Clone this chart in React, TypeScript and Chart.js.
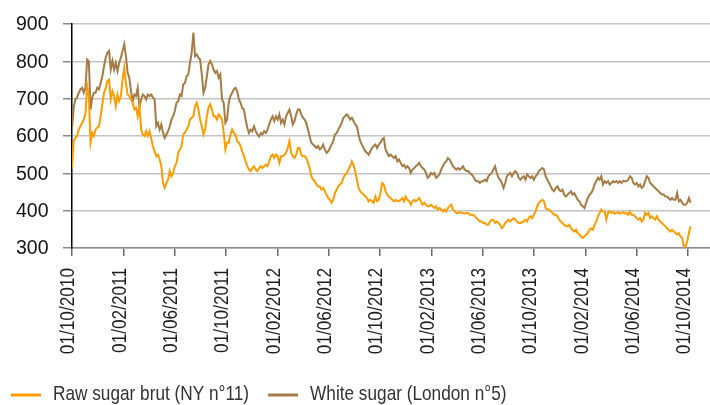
import React, { useEffect, useRef } from "react";
import { Chart, registerables } from "chart.js";

Chart.register(...registerables);

// ---- data -------------------------------------------------------------
const START_DATE = "01/10/2010";
const STEP_DAYS = 4; // one reading every 4 days
const X_MAX_DAYS = 1514;

const TICK_LABELS = [
  "01/10/2010", "01/02/2011", "01/06/2011", "01/10/2011", "01/02/2012",
  "01/06/2012", "01/10/2012", "01/02/2013", "01/06/2013", "01/10/2013",
  "01/02/2014", "01/06/2014", "01/10/2014",
];

const Y_MIN = 300;
const Y_MAX = 900;
const Y_STEP = 100;

const SERIES_NAMES = ["Raw sugar brut (NY n°11)", "White sugar (London n°5)"];
const SERIES_COLORS = ["#FF9C00", "#A57B46"];

const RAW_SUGAR = [
  512, 586, 595, 600, 617, 626, 635, 644, 660, 734,
  707, 582, 608, 600, 617, 622, 626, 653, 685, 716,
  729, 747, 751, 698, 720, 707, 680, 711, 694, 707,
  751, 783, 741, 711, 707, 698, 689, 671, 676, 653,
  680, 617, 604, 600, 613, 600, 613, 594, 572, 559,
  546, 550, 537, 519, 474, 461, 474, 483, 506, 492,
  501, 519, 528, 555, 564, 572, 604, 609, 617, 626,
  644, 649, 653, 680, 689, 671, 644, 626, 604, 617,
  653, 676, 685, 671, 653, 653, 644, 658, 653, 644,
  609, 564, 582,
  582, 604, 617, 608, 604, 586, 582, 573, 559, 546,
  532, 519, 510, 506, 514, 519, 510, 506, 514, 519,
  514, 519, 523, 519, 532, 546, 550, 541, 550, 546,
  528, 546, 546, 550, 555, 568, 586, 555, 546, 541,
  550, 568, 568, 550, 546, 546, 541, 528, 514, 492,
  483, 479, 470, 465, 465, 456, 461, 452, 443, 434,
  429, 421, 429, 447, 456, 465, 470, 474, 488, 497,
  501, 510, 519, 532, 523, 506, 483, 461, 452, 447,
  443, 438, 434, 425, 429, 425, 421, 438, 425, 429,
  447, 474,
  470, 452, 443, 438, 434, 429, 425, 429, 425, 425,
  429, 434, 425, 438, 429, 425, 416, 425, 429, 425,
  429, 434, 425, 416, 421, 416, 412, 412, 416, 412,
  407, 412, 403, 407, 403, 398, 403, 398, 407, 412,
  416, 403, 398, 394, 394, 396, 394, 394, 392, 394,
  394, 389, 389, 389, 385, 380, 376, 371, 371, 367,
  367, 362, 362, 371, 376, 376, 367, 371, 367, 362,
  353, 358, 367, 371, 376, 371, 376, 380, 376, 371,
  367, 367, 369, 371, 376, 371, 380, 385, 380, 389,
  398, 412,
  421, 425, 429, 425, 407, 403, 403, 398, 394, 389,
  389, 385, 376, 371, 367, 362, 358, 358, 362, 353,
  349, 344, 349, 340, 336, 331, 327, 331, 336, 340,
  349, 353, 349, 362, 371, 385, 394, 403, 398, 398,
  376, 394, 398, 394, 396, 392, 394, 396, 392, 394,
  396, 392, 394, 389, 398, 389, 389, 385, 380, 376,
  380, 371, 376, 394, 389, 394, 380, 385, 380, 376,
  385, 376, 371, 367, 362, 358, 353, 349, 344, 349,
  344, 340, 336, 340, 331, 327, 304, 304, 318, 340,
  358,
];

const WHITE_SUGAR = [
  620, 676, 698, 703, 716, 725, 729, 716, 729, 805,
  800, 671, 703, 716, 716, 729, 725, 742, 760, 787,
  810, 823, 828, 778, 801, 778, 796, 774, 796, 810,
  828, 846, 814, 769, 756, 720, 693, 711, 707, 729,
  676, 698, 711, 707, 698, 711, 707, 711, 703, 698,
  626, 635, 617, 631, 609, 595, 604, 613, 626, 644,
  653, 667, 689, 693, 711, 707, 738, 742, 760, 765,
  796, 823, 877, 814, 818, 810, 805, 765, 716, 729,
  760, 792, 801, 792, 778, 769, 774, 756, 765, 698,
  689, 635, 644,
  689, 707, 716, 725, 729, 720, 698, 689, 675, 671,
  644, 622, 608, 617, 613, 626, 613, 604, 599, 608,
  604, 613, 608, 617, 631, 644, 653, 640, 653, 644,
  658, 635, 644, 631, 653, 662, 671, 653, 631, 640,
  658, 671, 671, 658, 649, 644, 635, 617, 599, 582,
  577, 573, 568, 573, 564, 568, 577, 564, 555, 559,
  568, 577, 586, 604, 608, 617, 626, 635, 649, 653,
  658, 653, 644, 649, 640, 631, 626, 604, 586, 577,
  568, 559, 555, 550, 559, 568, 573, 577, 568, 577,
  582, 591,
  595, 564, 555, 546, 550, 546, 541, 546, 532, 537,
  528, 519, 523, 514, 519, 514, 501, 510, 514, 519,
  523, 528, 519, 514, 510, 501, 488, 492, 501, 497,
  501, 488, 492, 497, 510, 519, 528, 532, 541, 537,
  528, 519, 514, 510, 514, 510, 514, 519, 510, 506,
  506, 501, 497, 492, 483, 479, 479, 474, 479, 479,
  483, 479, 492, 497, 501, 510, 519, 501, 488, 483,
  474, 461, 474, 492, 497, 501, 492, 501, 506, 501,
  488, 483, 488, 492, 483, 497, 492, 488, 492, 483,
  492, 497,
  506, 510, 514, 510, 492, 483, 474, 465, 456, 452,
  461, 465, 456, 452, 456, 443, 438, 443, 447, 452,
  443, 447, 438, 429, 425, 416, 412, 407, 421, 434,
  443, 447, 456, 470, 479, 488, 483, 492, 470, 479,
  474, 479, 470, 474, 479, 476, 479, 474, 479, 474,
  480, 479, 479, 483, 492, 488, 474, 470, 474, 465,
  470, 461, 465, 479, 492, 488, 474, 470, 465, 461,
  456, 452, 447, 443, 443, 438, 438, 434, 429, 434,
  429, 429, 447, 425, 429, 421, 416, 416, 421, 434,
  421,
];

// ---- helpers ----------------------------------------------------------
function dayOffset(label: string): number {
  const [d, m, y] = label.split("/").map(Number);
  const [d0, m0, y0] = START_DATE.split("/").map(Number);
  return Math.round((Date.UTC(y, m - 1, d) - Date.UTC(y0, m0 - 1, d0)) / 86400000);
}
const TICK_DAYS = TICK_LABELS.map(dayOffset);

const REGULAR = "'Liberation Sans', Arial, sans-serif";
const NARROW_SCALE = 0.82; // Arial Narrow look, built from Liberation Sans

// Draws y tick labels, narrow-style x tick labels and the legend.
const axisTextPlugin = {
  id: "axisText",
  afterDraw(chart: any) {
    const ctx = chart.ctx as CanvasRenderingContext2D;
    const xs = chart.scales.x;
    const ys = chart.scales.y;
    const area = chart.chartArea;
    ctx.save();

    // y tick labels (from the scale's own ticks)
    ctx.font = `19.5px ${REGULAR}`;
    ctx.fillStyle = "#141414";
    ctx.textAlign = "right";
    ctx.textBaseline = "middle";
    ys.ticks.forEach((t: any) => {
      ctx.fillText(String(t.value), area.left - 23.5, ys.getPixelForValue(t.value) + 1);
    });

    // x tick labels, rotated
    ctx.font = `21px ${REGULAR}`;
    ctx.fillStyle = "#1e1e1e";
    TICK_LABELS.forEach((lab, i) => {
      const px = xs.getPixelForValue(TICK_DAYS[i]);
      ctx.save();
      ctx.translate(px - 3.5, area.bottom + 20);
      ctx.rotate(-Math.PI / 2);
      ctx.scale(NARROW_SCALE, 1);
      ctx.fillText(lab, 0, 0);
      ctx.restore();
    });

    // legend
    const lineY = 395;
    const baseY = 400;
    let x = 11;
    ctx.textAlign = "left";
    ctx.textBaseline = "alphabetic";
    ctx.fillStyle = "#333333";
    chart.data.datasets.forEach((ds: any) => {
      ctx.beginPath();
      ctx.strokeStyle = ds.borderColor;
      ctx.lineWidth = 3;
      ctx.moveTo(x, lineY);
      ctx.lineTo(x + 30, lineY);
      ctx.stroke();
      const tx = x + 42;
      ctx.save();
      ctx.translate(tx, baseY);
      ctx.scale(NARROW_SCALE, 1);
      ctx.fillText(ds.label, 0, 0);
      ctx.restore();
      x = tx + ctx.measureText(ds.label).width * NARROW_SCALE + 19;
    });
    ctx.restore();
  },
};

export default function App() {
  const canvasRef = useRef<HTMLCanvasElement | null>(null);

  useEffect(() => {
    if (!canvasRef.current) return;
    const toPoints = (arr: number[]) => arr.map((v, i) => ({ x: i * STEP_DAYS, y: v }));
    const chart = new Chart(canvasRef.current, {
      type: "line",
      data: {
        datasets: [
          {
            label: SERIES_NAMES[0],
            data: toPoints(RAW_SUGAR),
            borderColor: SERIES_COLORS[0],
            backgroundColor: SERIES_COLORS[0],
            borderWidth: 2,
            pointRadius: 0,
            tension: 0,
          },
          {
            label: SERIES_NAMES[1],
            data: toPoints(WHITE_SUGAR),
            borderColor: SERIES_COLORS[1],
            backgroundColor: SERIES_COLORS[1],
            borderWidth: 2,
            pointRadius: 0,
            tension: 0,
          },
        ],
      },
      options: {
        animation: false,
        responsive: true,
        maintainAspectRatio: false,
        events: [],
        layout: { padding: { top: 24, left: 0, right: 0, bottom: 137 } },
        scales: {
          x: {
            type: "linear",
            min: 0,
            max: X_MAX_DAYS,
            afterBuildTicks: (s: any) => {
              s.ticks = TICK_DAYS.map((v) => ({ value: v }));
            },
            afterFit: (s: any) => {
              s.height = 20;
              s.paddingLeft = 0;
              s.paddingRight = 0;
            },
            ticks: { display: false, autoSkip: false },
            grid: {
              drawOnChartArea: false,
              drawTicks: true,
              tickLength: 8,
              tickColor: "#6b6b6b",
              lineWidth: 1.5,
            },
            border: { display: true, color: "#8c8c8c", width: 1.5 },
          },
          y: {
            min: Y_MIN,
            max: Y_MAX,
            afterFit: (s: any) => {
              s.width = 72;
            },
            ticks: { stepSize: Y_STEP, display: false },
            grid: {
              color: "#c4c4c4",
              lineWidth: 1.5,
              drawTicks: true,
              tickLength: 9,
              tickColor: "#8a8a8a",
            },
            border: { display: true, color: "#000000", width: 1.5 },
          },
        },
        plugins: {
          tooltip: { enabled: false },
          legend: { display: false },
        },
      },
      plugins: [axisTextPlugin],
    } as any);
    return () => chart.destroy();
  }, []);

  return (
    <div style={{ position: "fixed", left: 0, top: 0, width: 710, height: 405, background: "#fff" }}>
      <canvas ref={canvasRef} />
    </div>
  );
}
